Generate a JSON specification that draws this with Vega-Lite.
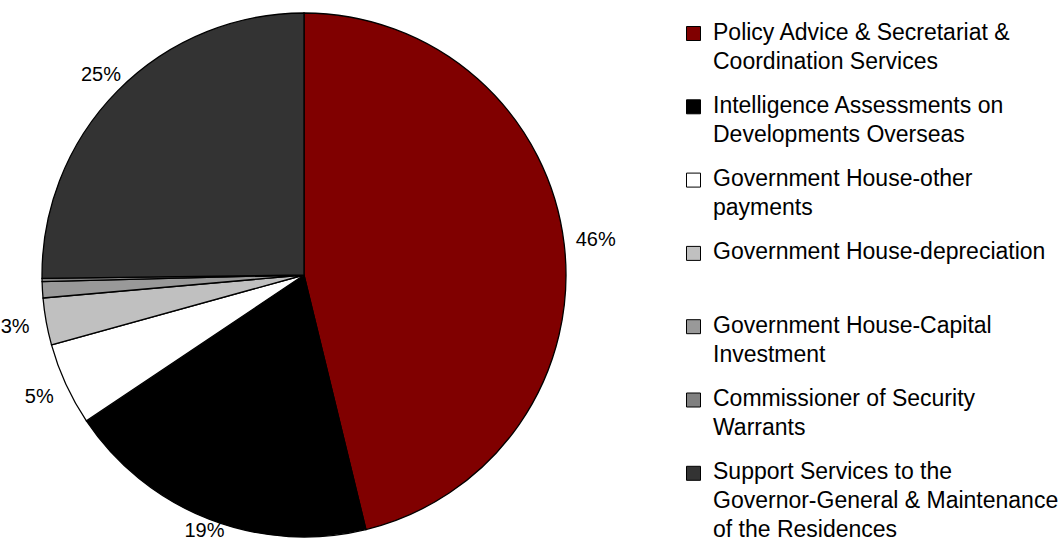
{
  "$schema": "https://vega.github.io/schema/vega-lite/v6.json",
  "width": 608,
  "height": 550,
  "padding": 0,
  "autosize": {"type": "pad"},
  "background": "white",
  "config": {"view": {"stroke": null}, "font": "Liberation Sans"},
  "data": {
    "values": [
      {"category": "Policy Advice & Secretariat & Coordination Services", "pct": 46.2, "label": "46%", "order": 1},
      {"category": "Intelligence Assessments on Developments Overseas", "pct": 19.4, "label": "19%", "order": 2},
      {"category": "Government House-other payments", "pct": 5.1, "label": "5%", "order": 3},
      {"category": "Government House-depreciation", "pct": 2.9, "label": "3%", "order": 4},
      {"category": "Government House-Capital Investment", "pct": 1.0, "label": "", "order": 5},
      {"category": "Commissioner of Security Warrants", "pct": 0.2, "label": "", "order": 6},
      {"category": "Support Services to the Governor-General & Maintenance of the Residences", "pct": 25.2, "label": "25%", "order": 7}
    ]
  },
  "encoding": {
    "theta": {"field": "pct", "type": "quantitative", "stack": true},
    "order": {"field": "order", "type": "quantitative", "sort": "ascending"}
  },
  "layer": [
    {
      "mark": {"type": "arc", "radius": 262, "stroke": "black", "strokeWidth": 1.3},
      "encoding": {
        "color": {
          "field": "category",
          "type": "nominal",
          "scale": {
            "domain": [
              "Policy Advice & Secretariat & Coordination Services",
              "Intelligence Assessments on Developments Overseas",
              "Government House-other payments",
              "Government House-depreciation",
              "Government House-Capital Investment",
              "Commissioner of Security Warrants",
              "Support Services to the Governor-General & Maintenance of the Residences"
            ],
            "range": ["#800000", "#000000", "#ffffff", "#c0c0c0", "#999999", "#808080", "#333333"]
          },
          "legend": {
            "orient": "none",
            "legendX": 682,
            "legendY": 22,
            "title": null,
            "padding": 0,
            "symbolType": "square",
            "symbolSize": 196,
            "symbolStrokeColor": "black",
            "symbolStrokeWidth": 1,
            "labelFont": "Liberation Sans",
            "labelFontSize": 23,
            "labelColor": "black",
            "labelOffset": 8,
            "labelLimit": 0,
            "labelBaseline": "top",
            "rowPadding": 20.3,
            "labelExpr": "datum.label == 'Policy Advice & Secretariat & Coordination Services' ? ['Policy Advice & Secretariat &', 'Coordination Services'] : datum.label == 'Intelligence Assessments on Developments Overseas' ? ['Intelligence Assessments on', 'Developments Overseas'] : datum.label == 'Government House-other payments' ? ['Government House-other', 'payments'] : datum.label == 'Government House-depreciation' ? ['Government House-depreciation', ' '] : datum.label == 'Government House-Capital Investment' ? ['Government House-Capital', 'Investment'] : datum.label == 'Commissioner of Security Warrants' ? ['Commissioner of Security', 'Warrants'] : ['Support Services to the', 'Governor-General & Maintenance', 'of the Residences']",
            "encode": {
              "labels": {"update": {"lineHeight": {"value": 29}, "dy": {"value": -12}}}
            }
          }
        }
      }
    },
    {
      "mark": {
        "type": "text",
        "radius": {"expr": "264 + 30 * abs(sin(PI * (datum.pct_start + datum.pct_end) / 100))"},
        "fontSize": 20,
        "font": "Liberation Sans",
        "color": "black"
      },
      "encoding": {"text": {"field": "label", "type": "nominal"}}
    }
  ]
}
